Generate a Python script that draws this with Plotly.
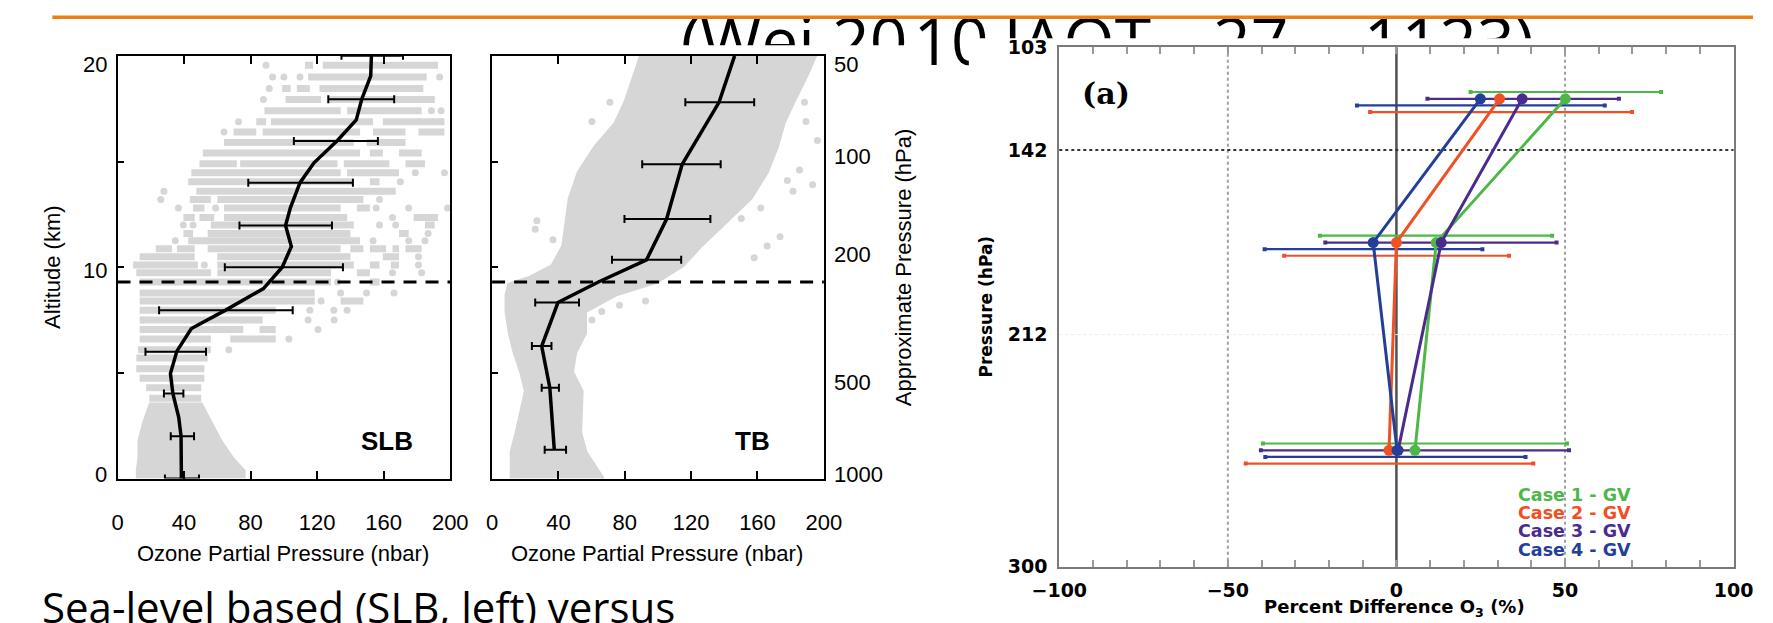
import math
import plotly.graph_objects as go

W, H = 1773, 623


def px(x):
    return x / W


def py(y):
    return 1 - y / H


# ---------------- Left panel: sea-level based (SLB) ----------------
slb_mean_alt = [20.0, 19.05, 17.95, 16.97, 16.0, 14.94, 14.0, 12.81, 11.97, 10.98,
                10.0, 8.99, 7.97, 7.1, 6.03, 4.97, 4.02, 2.9, 2.0, 0.0]
slb_mean_o3 = [152.6, 152.2, 146.8, 143.5, 132.2, 118.1, 109.7, 103.9, 101.0, 104.5,
               99.0, 87.7, 65.0, 44.4, 35.7, 31.8, 33.3, 36.8, 38.2, 38.4]

slb_bar_alt = [20.0, 17.95, 15.97, 14.0, 11.97, 10.0, 7.97, 6.0, 4.02, 2.0, 0.0]
slb_bar_mid = [152.6, 146.8, 131.8, 109.7, 101.0, 99.0, 65.0, 35.1, 33.3, 38.0, 38.4]
slb_bar_lo = [134.6, 126.7, 106.0, 78.6, 73.3, 64.5, 25.0, 16.8, 27.9, 32.0, 28.5]
slb_bar_hi = [171.6, 166.3, 156.5, 141.5, 128.9, 135.5, 105.3, 53.2, 39.6, 46.0, 49.0]

# rows of individual soundings (altitude, list of [from, to] ozone stretches)
slb_row_alt = [19.55, 19.0, 18.46, 17.93, 17.4, 16.88, 16.4, 15.9, 15.4, 14.9, 14.47,
               14.04, 13.6, 13.2, 12.8, 12.35, 12.0, 11.6, 11.25, 10.87, 10.5, 10.1,
               9.74, 9.3, 8.78, 8.4, 7.97, 7.5, 7.05, 6.6, 6.1, 5.7, 5.2, 4.75, 4.3, 3.8]
slb_row_segments = [
    [[89.3, 89.3], [112.7, 117.5], [123.4, 192.6]],
    [[93.2, 93.2], [100, 100], [109.7, 109.7], [114.6, 185.8], [193.6, 193.6]],
    [[91.2, 91.2], [99, 104], [107.8, 115.6], [121.4, 183.8]],
    [[87.7, 87.7], [101, 122.4], [126.3, 190.7]],
    [[88.3, 134.1], [138, 182.8], [188.7, 188.7], [194.5, 194.5]],
    [[72.7, 72.7], [83.4, 89.3], [92.2, 153.6], [159.5, 196.5]],
    [[64, 64], [69.8, 83.4], [87.3, 145.8], [153.6, 173.1], [180.9, 196.5]],
    [[64, 142], [149.7, 173.1]],
    [[51.3, 145.8], [151.7, 159.5], [169.2, 182.8]],
    [[49.3, 71.7], [73.7, 132.2], [136, 163.4], [173.1, 184.8]],
    [[44.4, 134.1], [138, 169.2], [179, 179], [196.5, 196.5]],
    [[42.5, 142], [151.7, 157.5], [170, 170]],
    [[27.9, 27.9], [47.4, 167.2]],
    [[26, 26], [43.5, 56.1], [60, 147.8], [157.5, 157.5]],
    [[36.6, 36.6], [45.4, 52.2], [59, 59], [64, 134.1], [143.9, 151.7], [155.5, 155.5],
     [175, 175], [198.4, 198.4]],
    [[39.6, 46.4], [49.3, 58.1], [64, 138], [165.3, 165.3], [178, 192.6]],
    [[39.6, 39.6], [45.4, 45.4], [56.1, 142], [157.5, 157.5], [167.2, 167.2], [184.8, 190.6]],
    [[39.6, 45.4], [54.2, 140], [169.2, 175], [186.7, 186.7]],
    [[34.7, 34.7], [42.5, 145.8], [153.6, 153.6], [175, 175], [184.8, 184.8]],
    [[23, 32.7], [35.7, 46.4], [54.2, 134.1], [140, 147.8], [151.7, 161.4], [165.3, 169.2],
     [173.1, 182.8]],
    [[13.3, 46.4], [60, 140], [159.5, 169.2], [180.9, 180.9]],
    [[9.4, 48.3], [52.2, 52.2], [60, 142], [151.7, 157.5], [164.3, 169.2], [180.9, 180.9]],
    [[11.3, 56.1], [60, 128.3], [143.9, 151.7], [165.3, 165.3], [182.8, 182.8]],
    [[13.3, 128.3], [132.2, 132.2], [151.7, 157.5]],
    [[13.3, 118.5], [134.1, 134.1], [149.7, 149.7], [166.2, 166.2]],
    [[13.3, 118.5], [122.4, 122.4], [134.1, 147.8]],
    [[13.3, 95.1], [115.6, 115.6], [130, 130], [138, 138]],
    [[13.3, 87.3], [114.6, 114.6], [130.2, 130.2]],
    [[13.3, 75.6], [85.4, 95.1], [120.5, 120.5]],
    [[13.3, 56.1], [67.8, 95.1], [103, 103]],
    [[12.3, 56.1], [66.9, 66.9]],
    [[11.3, 54.2]],
    [[11.3, 52.2]],
    [[13.3, 52.2]],
    [[17.2, 50.3]],
    [[19.1, 50.3]],
]
slb_base_alt = [0.0, 0.4, 1.0, 1.8, 2.7, 3.6]
slb_base_left = [11, 11, 12, 12, 15, 19]
slb_base_right = [77, 77, 70, 63, 57, 51]

# ---------------- Middle panel: tropopause based (TB) ----------------
tb_mean_alt = [20.0, 17.8, 14.87, 12.28, 10.35, 9.3, 8.33, 6.27, 4.3, 1.36]
tb_mean_o3 = [146.2, 136.8, 114.6, 105.2, 93.1, 64.1, 39.7, 29.9, 34.8, 37.5]

tb_bar_alt = [17.8, 14.87, 12.28, 10.35, 8.33, 6.27, 4.3, 1.36]
tb_bar_mid = [136.8, 114.6, 105.2, 93.1, 39.7, 29.9, 34.8, 37.5]
tb_bar_lo = [116.5, 90.5, 79.8, 72.3, 26.0, 24.0, 29.9, 31.7]
tb_bar_hi = [158.0, 137.8, 131.6, 114.0, 52.4, 35.8, 40.3, 44.6]

tb_cloud_left_alt = [0, 1.27, 2.18, 4.14, 5.05, 5.96, 6.87, 7.9, 8.7, 9.2, 9.5, 10.06,
                     11.0, 12.05, 13.25, 14.5, 15.7, 16.8, 17.8, 19.1, 20]
tb_cloud_left = [11.5, 11.5, 14.5, 20.1, 17.2, 13.3, 10.4, 8.4, 8.4, 10, 22, 36,
                 42.6, 44.6, 46.5, 52, 62, 74, 80, 85.6, 89.5]
tb_cloud_right_alt = [20, 19.1, 17.83, 16.8, 15.7, 14.5, 13.25, 12.05, 11.0, 10.06, 9.3,
                      8.7, 7.9, 6.87, 5.96, 5.05, 4.14, 2.18, 1.27, 0]
tb_cloud_right = [195, 190, 182, 176, 172, 166, 156, 140, 126, 115, 99.3,
                  75, 56.3, 56.3, 50.4, 48.5, 54.3, 53.4, 56.5, 67]
tb_dot_o3 = [27.0, 26.0, 60.2, 71.0, 66.1, 76.8, 92.5, 60.2, 165.8, 158.0, 188.3, 196.1,
             193.2, 181.4, 189.2, 185.3, 173.6, 36.7, 49.5, 54.3, 150.2, 162.0, 178.0]
tb_dot_alt = [12.2, 11.8, 16.9, 17.8, 7.9, 8.2, 8.4, 7.5, 11.0, 10.45, 17.8, 16.0,
              13.9, 13.6, 16.9, 14.6, 11.44, 11.3, 9.92, 11.75, 12.3, 12.8, 14.1]

tropopause_alt = 9.3
pressure_ticks = [100, 200, 500]
pressure_labels = ["50", "100", "200", "500", "1000"]
pressure_range = [1021, 49.75]
o3_ticks = [0, 40, 80, 120, 160, 200]
alt_labels = ["20", "10", "0"]

# ---------------- Right panel: (a) percent differences ----------------
case_names = ["Case 1 - GV", "Case 2 - GV", "Case 3 - GV", "Case 4 - GV"]
case_colors = ["#4DB748", "#EF5024", "#4B2C8E", "#243F98"]
level_p = [255.9, 177.1, 122.6]
case_mean = [[5.5, 11.8, 50.1],
             [-2.2, 0.0, 30.6],
             [0.5, 13.3, 37.3],
             [0.2, -6.9, 24.9]]
case_lo = [[-39.6, -22.7, 22.0],
           [-44.7, -33.3, -7.8],
           [-40.2, -21.1, 9.2],
           [-38.9, -39.1, -11.7]]
case_hi = [[50.6, 46.2, 78.5],
           [40.6, 33.4, 69.9],
           [51.2, 47.5, 66.0],
           [38.3, 25.5, 61.8]]
case_bar_shift = [-2.6, 5.0, 0.0, 2.5]   # hPa offset of each case's range bar
pd_ticks = [-100, -50, 0, 50, 100]
p_ticks = [103, 142, 212, 300]
p_ref = 142

# ---------------- Slide text ----------------
slide_title_parts = ["(Wei 20", "10", "JAOT,", "27,", "1123)"]
slide_title_x = [671, 910, 1003, 1218, 1373]
slide_caption = "Sea-level based (SLB, left) versus"

GREY = "#d6d6d6"
HELV = "Liberation Sans"
DJV = "DejaVu Sans"

fig = go.Figure()


def add_rows(alts, rows, xa, ya):
    lx, ly, dx, dy = [], [], [], []
    for a, segs in zip(alts, rows):
        for s0, s1 in segs:
            if s1 > s0:
                lx += [s0, s1, None]
                ly += [a, a, None]
            else:
                dx.append(s0)
                dy.append(a)
    fig.add_trace(go.Scatter(x=lx, y=ly, mode="lines", line=dict(color=GREY, width=7),
                             xaxis=xa, yaxis=ya, hoverinfo="skip"))
    fig.add_trace(go.Scatter(x=dx, y=dy, mode="markers",
                             marker=dict(color=GREY, size=7, line=dict(width=0)),
                             xaxis=xa, yaxis=ya, hoverinfo="skip"))


def add_bars(alt, mid, lo, hi, xa, ya):
    fig.add_trace(go.Scatter(
        x=mid, y=alt, mode="markers", marker=dict(size=2, color="rgba(0,0,0,0)"),
        error_x=dict(type="data", symmetric=False,
                     array=[h - m for h, m in zip(hi, mid)],
                     arrayminus=[m - l for m, l in zip(mid, lo)],
                     color="black", thickness=2, width=4),
        xaxis=xa, yaxis=ya, hoverinfo="skip"))


# SLB cloud
fig.add_trace(go.Scatter(x=slb_base_left + slb_base_right[::-1],
                         y=slb_base_alt + slb_base_alt[::-1], mode="lines",
                         fill="toself", fillcolor=GREY, line=dict(width=0, color=GREY),
                         xaxis="x", yaxis="y", hoverinfo="skip"))
add_rows(slb_row_alt, slb_row_segments, "x", "y")
fig.add_trace(go.Scatter(x=slb_mean_o3, y=slb_mean_alt, mode="lines",
                         line=dict(color="black", width=3.5), xaxis="x", yaxis="y"))
add_bars(slb_bar_alt, slb_bar_mid, slb_bar_lo, slb_bar_hi, "x", "y")

# TB cloud
fig.add_trace(go.Scatter(x=tb_cloud_left + tb_cloud_right,
                         y=tb_cloud_left_alt + tb_cloud_right_alt, mode="lines",
                         fill="toself", fillcolor=GREY, line=dict(width=3, color=GREY),
                         xaxis="x2", yaxis="y3", hoverinfo="skip"))
fig.add_trace(go.Scatter(x=tb_dot_o3, y=tb_dot_alt, mode="markers",
                         marker=dict(color=GREY, size=7), xaxis="x2", yaxis="y3"))
fig.add_trace(go.Scatter(x=tb_mean_o3, y=tb_mean_alt, mode="lines",
                         line=dict(color="black", width=3.5), xaxis="x2", yaxis="y3"))
add_bars(tb_bar_alt, tb_bar_mid, tb_bar_lo, tb_bar_hi, "x2", "y3")

# Right panel
for i in range(4):
    for k in range(3):
        pb = level_p[k] + case_bar_shift[i]
        fig.add_trace(go.Scatter(
            x=[case_lo[i][k], case_hi[i][k]], y=[pb, pb], mode="lines+markers",
            line=dict(color=case_colors[i], width=2.2),
            marker=dict(symbol="square", size=4, color=case_colors[i]),
            xaxis="x3", yaxis="y5", hoverinfo="skip"))
for i in range(4):
    fig.add_trace(go.Scatter(
        x=case_mean[i], y=level_p, mode="lines+markers",
        line=dict(color=case_colors[i], width=3),
        marker=dict(size=11, color=case_colors[i]),
        xaxis="x3", yaxis="y5", name=case_names[i]))

# Slide title, cut by the pictures that overlap it
clip_sets = [("x4", "y6"), ("x5", "y7"), ("x6", "y8")]
for xa, ya in clip_sets:
    fig.add_trace(go.Scatter(
        x=slide_title_x, y=[39] * len(slide_title_x), mode="text",
        text=slide_title_parts, textposition="middle right",
        textfont=dict(family="Open Sans", size=66, color="black"),
        cliponaxis=True, xaxis=xa, yaxis=ya, hoverinfo="skip"))

# ---------------- axes ----------------
ydom_lr = [py(484.7), py(46.5)]
lax = dict(showgrid=False, zeroline=False, showline=True, linecolor="black",
           linewidth=2)
xcommon = dict(lax, range=[0, 200], tickvals=o3_ticks, ticks="inside", ticklen=8,
               tickwidth=1.5, tickcolor="black", mirror="ticks",
               tickfont=dict(family=HELV, size=22, color="black"), ticklabelstandoff=23)
ycommon = dict(lax, range=[0, 20], tickvals=[0, 5, 10, 15, 20], ticks="inside",
               ticklen=6, tickwidth=1.5, tickcolor="black", mirror=True,
               showticklabels=False)
pcommon = dict(type="log", range=[math.log10(pressure_range[0]), math.log10(pressure_range[1])],
               tickvals=pressure_ticks, ticks="inside", ticklen=6, tickwidth=1.5,
               tickcolor="black", showticklabels=False, showgrid=False, zeroline=False,
               showline=False, side="right")

layout = dict(
    width=W, height=H, margin=dict(l=0, r=0, t=0, b=0), showlegend=False,
    paper_bgcolor="white", plot_bgcolor="rgba(0,0,0,0)",
    xaxis=dict(xcommon, domain=[px(92), px(434)], anchor="y"),
    yaxis=dict(ycommon, domain=ydom_lr, anchor="x"),
    yaxis2=dict(pcommon, domain=ydom_lr, overlaying="y", anchor="x"),
    xaxis2=dict(xcommon, domain=[px(477), px(818)], anchor="y3"),
    yaxis3=dict(ycommon, domain=ydom_lr, anchor="x2"),
    yaxis4=dict(pcommon, domain=ydom_lr, overlaying="y3", anchor="x2"),
    xaxis3=dict(showgrid=False, zeroline=False, showline=True, linecolor="#7a7a7a",
                linewidth=2, mirror="ticks", range=[-100, 100], tickvals=pd_ticks,
                ticks="inside", ticklen=7, tickwidth=1.5, tickcolor="#9a9a9a",
                minor=dict(dtick=10, tick0=0, ticks="inside", ticklen=7, tickwidth=1.5,
                           tickcolor="#9a9a9a", showgrid=False),
                tickfont=dict(family=DJV, size=19, color="black", weight="bold"),
                ticklabelstandoff=6, domain=[px(1060), px(1753)], anchor="y5"),
    yaxis5=dict(showgrid=False, zeroline=False, showline=True, linecolor="#7a7a7a",
                linewidth=2, mirror=True, range=[300, 103], tickvals=p_ticks, ticks="",
                tickfont=dict(family=DJV, size=19, color="black", weight="bold"),
                ticklabelstandoff=6, domain=[py(576), py(37.5)], anchor="x3"),
)
clip_bounds = [(0, 914, 35.5), (914, 967, 70), (967, W, 28.3)]
for n, (x0, x1, yb) in enumerate(clip_bounds):
    layout["xaxis%d" % (4 + n)] = dict(visible=False, range=[x0, x1],
                                        domain=[px(x0), px(x1)], anchor="y%d" % (6 + n))
    layout["yaxis%d" % (6 + n)] = dict(visible=False, range=[yb, 0],
                                        domain=[py(yb), 1], anchor="x%d" % (4 + n))
fig.update_layout(**layout)

# ---------------- shapes ----------------
shapes = [
    dict(type="line", xref="paper", yref="paper", x0=px(25), x1=1, y0=py(6.5), y1=py(6.5),
         line=dict(color="#EB8110", width=3.5)),
]
for xa, ya in [("x", "y"), ("x2", "y3")]:
    shapes.append(dict(type="line", xref=xa + " domain", yref=ya, x0=0, x1=1,
                       y0=tropopause_alt, y1=tropopause_alt, layer="above",
                       line=dict(color="black", width=3, dash="13px,9px")))
for v in [-50, 50]:
    shapes.append(dict(type="line", xref="x3", yref="y5 domain", x0=v, x1=v, y0=0, y1=1,
                       layer="below", line=dict(color="#a0a0a0", width=2, dash="dot")))
shapes.append(dict(type="line", xref="x3", yref="y5 domain", x0=0, x1=0, y0=0, y1=1,
                   layer="below", line=dict(color="#505050", width=2.5)))
shapes.append(dict(type="line", xref="x3 domain", yref="y5", x0=0, x1=1, y0=p_ref, y1=p_ref,
                   layer="below", line=dict(color="#333333", width=2, dash="dot")))
shapes.append(dict(type="line", xref="x3 domain", yref="y5", x0=0, x1=1, y0=212, y1=212,
                   layer="below", line=dict(color="#ececec", width=1, dash="dot")))
fig.update_layout(shapes=shapes)

# ---------------- texts ----------------
ann = []


def text(x, y, s, size, family=HELV, xanchor="center", angle=0, color="black", weight="normal"):
    ann.append(dict(x=px(x), y=py(y), xref="paper", yref="paper", text=s, showarrow=False,
                    xanchor=xanchor, yanchor="middle", textangle=angle,
                    font=dict(family=family, size=size, color=color, weight=weight)))


for s, y in zip(alt_labels, [55, 269, 480]):
    text(83, y, s, 22, xanchor="right")
for s, y in zip(pressure_labels, [55, 151, 252, 385, 480]):
    text(826, y, s, 22, xanchor="left")
text(25, 266, "Altitude (km)", 22, angle=-90)
text(900, 266, "Approximate Pressure (hPa)", 22, angle=-90)
text(262, 562, "Ozone Partial Pressure (nbar)", 22)
text(647, 562, "Ozone Partial Pressure (nbar)", 22)
text(369, 446, "SLB", 26, weight="bold")
text(745, 446, "TB", 26, weight="bold")
text(985, 306, "Pressure (hPa)", 17, family=DJV, angle=-90, weight="bold")
text(1405, 619, "Percent Difference O<sub>3</sub> (%)", 18, family=DJV, weight="bold")
text(1081, 86, "(a)", 30, family="DejaVu Serif", xanchor="left", weight="bold")
for i, y in enumerate([501.4, 520.5, 539.5, 558.6]):
    text(1529, y, case_names[i], 17.5, family=DJV, xanchor="left", color=case_colors[i],
         weight="bold")
text(12, 617, slide_caption, 42, family="Open Sans", xanchor="left")
fig.update_layout(annotations=ann)

fig.write_html("out.html")
